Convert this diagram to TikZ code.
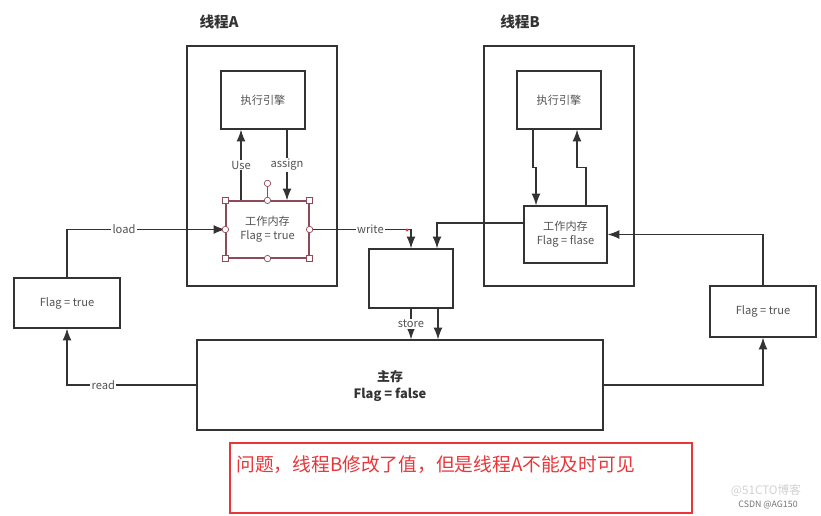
\documentclass[tikz,border=0pt]{standalone}
\usepackage{fontspec}
\setmainfont{Noto Sans CJK SC}
\usepackage{tikz}
\usetikzlibrary{arrows.meta,calc,positioning}

\definecolor{ink}{HTML}{333333}
\definecolor{selc}{HTML}{8E4A5A}
\definecolor{warn}{HTML}{E8363A}

\tikzset{
  wh/.style 2 args={minimum width=#1*0.03cm, minimum height=#2*0.03cm},
  box/.style={draw=ink, line width=1pt, inner sep=0pt, align=center,
    font=\fontsize{9.5}{12}\selectfont, text=ink!85},
  lbl/.style={fill=white, inner sep=1pt, font=\fontsize{9.5}{11}\selectfont, text=ink!85},
  link/.style={->, draw=ink, line width=1pt},
  sqhandle/.style={draw=selc, fill=white, line width=0.6pt, minimum size=5pt, inner sep=0pt},
  cihandle/.style={circle, draw=selc, fill=white, line width=0.6pt, minimum size=5.5pt, inner sep=0pt},
}

\begin{document}
\begin{tikzpicture}[x=0.03cm,y=-0.03cm,>={Latex[length=10pt,width=7.5pt]},semithick]
  \useasboundingbox (0,0) rectangle (821,516);

  % threads
  \node[font=\bfseries\fontsize{12.5}{14}\selectfont, text=ink] (titA) at (219,22) {线程A};
  \node[font=\bfseries\fontsize{12.5}{14}\selectfont, text=ink] (titB) at (520,22) {线程B};
  \node[box, wh={150}{240}] (thA) at (262,166) {};
  \node[box, wh={150}{240}] (thB) at (559,166) {};

  \node[box, wh={84}{58}] (engA) at (263,100) {执行引擎};
  \node[box, wh={84}{58}] (engB) at (559,100) {执行引擎};
  \node[box, draw=selc, wh={83}{57}] (wmA) at (267.5,229.5) {工作内存\\Flag = true};
  \node[box, wh={83}{57}] (wmB) at (565.5,234.5) {工作内存\\Flag = flase};

  % other boxes
  \node[box, wh={84}{59}] (buf) at (411,278.5) {};
  \node[box, wh={406}{90}] (mainmem) at (400,385) {};
  \node[font=\bfseries\fontsize{11}{14}\selectfont, text=ink, align=center] (mainlbl) at (390,386) {主存\\Flag = false};
  \node[box, wh={106}{50}] (flagL) at (67,303) {Flag = true};
  \node[box, wh={106}{51}] (flagR) at (763,311.5) {Flag = true};

  % thread A
  \draw[link] ($(wmA.north)+(-26.5,0)$) -- ($(engA.south)+(-22,0)$) node[lbl, midway] {Use};
  \draw[link] ($(engA.south)+(24,0)$) -- ($(wmA.north)+(19.5,0)$) node[lbl, midway] {assign};

  % thread B
  \draw[link] ($(engB.south)+(-26,0)$) -- ++(0,38) -| ($(wmB.north)+(-29.5,0)$);
  \draw[link] ($(wmB.north)+(20.5,0)$) -- ++(0,-38) -| ($(engB.south)+(18,0)$);

  % memory traffic
  \draw[link] (flagL.north) |- (wmA.west) node[lbl, pos=0.68] {load};
  \draw[link] (wmA.east) -| (buf.north) node[lbl, pos=0.3] {write};
  \fill[warn] (407,230) circle (1.6);
  \draw[link] ($(wmB.west)+(0,-11.5)$) -| ($(buf.north)+(26,0)$);
  \draw[link] (buf.south) -- (buf.south |- mainmem.north) node[lbl, midway] {store};
  \draw[link] ($(buf.south)+(27,0)$) -- ($(buf.south |- mainmem.north)+(27,0)$);
  \draw[link] (mainmem.west) -| (flagL.south) node[lbl, pos=0.36] {read};
  \draw[link] (mainmem.east) -| (flagR.south);
  \draw[link] (flagR.north) |- (wmB.east);

  % selection handles
  \coordinate (rot) at ($(wmA.north)+(0,-17)$);
  \draw[selc, line width=0.6pt] (wmA.north) -- (rot);
  \foreach \c in {north west,north east,south west,south east}
    \node[sqhandle] at (wmA.\c) {};
  \foreach \c in {north,south,east,west}
    \node[cihandle] at (wmA.\c) {};
  \node[cihandle] at (rot) {};

  % note
  \node[draw=warn, line width=1pt, wh={462}{70}] (note) at (461,478) {};
  \node[anchor=west, text=warn, font=\fontsize{16}{19}\selectfont, inner sep=0pt] (notetxt) at (236,465) {问题，线程B修改了值，但是线程A不能及时可见};

  % watermark
  \node[text=black!18, font=\fontsize{10}{12}\selectfont, inner sep=0pt] (wm1) at (766,491) {@51CTO博客};
  \node[text=black!55, font=\fontsize{7.5}{9}\selectfont, inner sep=0pt] (wm2) at (768,505) {CSDN @AG150};
\end{tikzpicture}
\end{document}
